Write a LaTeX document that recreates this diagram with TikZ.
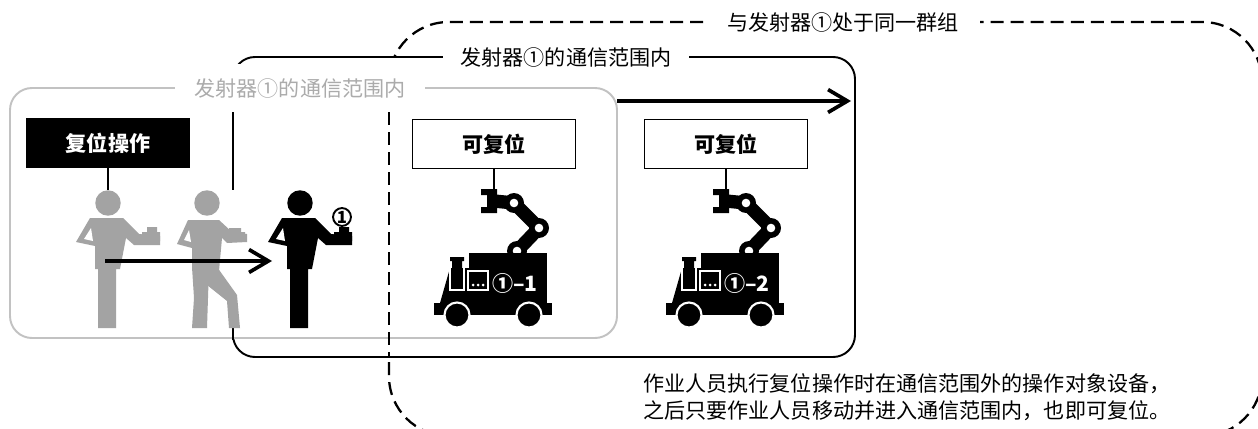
\documentclass[tikz,border=0pt]{standalone}
\usepackage{fontspec}
\setmainfont{Noto Sans CJK SC}
\usepackage{tikz}
\usetikzlibrary{arrows.meta}
\definecolor{cMan}{HTML}{A3A3A3}
\definecolor{cFrame}{HTML}{C2C2C2}
\definecolor{cFaint}{HTML}{ABABAB}

% operator standing still, head centre at the origin (1 unit = 1px, y downwards)
\newcommand{\standman}[1]{%
  \fill[#1] (-18,15) -- (15,15) -- (31,31) -- (52,33) -- (52,42) -- (26,42) -- (18,35)
    -- (12,66) -- (8,66) -- (8,125) -- (-10,125) -- (-10,66) -- (-13,66)
    -- (-13,43) -- (-32,39) -- cycle;
  \fill[#1] (39,24) rectangle (49,29) (34,29) rectangle (52,38);
  \fill[white] (-17,25) -- (-15,38) -- (-24,36) -- cycle;
}
% operator walking
\newcommand{\walkman}[1]{%
  \fill[#1] (-19,17) -- (12,17) -- (25,29) -- (40,31) -- (40,39) -- (20,40) -- (15,35)
    -- (12,68) -- (-15,68) -- (-15,45) -- (-30,41) -- cycle;
  \fill[#1] (22,25) rectangle (34,29) (20,29) rectangle (38,37);
  \fill[white] (-18,27) -- (-16,39) -- (-23,37) -- cycle;
  \fill[#1] (-15,64) -- (2,64) -- (1,95) -- (0,125) -- (-15,125) -- (-13,95) -- cycle;
  \fill[#1] (-6,64) -- (10,64) -- (30,92) -- (33,125) -- (22,125) -- (20,98) -- (0,82) -- cycle;
}
% mobile robot, origin at the bottom centre of its label box
\newcommand{\robot}[2]{%
  \coordinate (#1grip) at (0,20);
  % gripper
  \fill (-13,20) rectangle (3,26) (-7,26) rectangle (3,38) (-13,38) rectangle (3,44);
  % arm links and joints
  \draw[line width=7.6pt,line join=round] (0,32) -- (20,34) -- (45,59) -- (23,82);
  \foreach \jx/\jy in {20/34,45/59,23/82}{
    \fill (\jx,\jy) circle (10);
    \fill[white] (\jx,\jy) circle (4.3);
  }
  % body, front, chimney and base
  \fill (-25,84) rectangle (53,134);
  \fill (-44,99) -- (-25,99) -- (-25,134) -- (-54,134) -- cycle;
  \fill (-44,88) rectangle (-30,92) (-42,92) rectangle (-32,100);
  \fill (-60,134) rectangle (58,146);
  \draw[white,line width=0.7pt] (-44,99) -- (-44,121) -- (-30,121) -- (-30,99);
  \draw[white,line width=0.7pt] (-26,102) rectangle (-6,121);
  \foreach \d in {-21,-16,-11} \fill[white] (\d,116) circle (1.5);
  \node[robotid] (#1id) at (21,114) {#2};
  \foreach \w in {-37,35} \filldraw[draw=white,line width=1.2pt] (\w,146) circle (12.5);
}

\begin{document}
\begin{tikzpicture}[x=0.02cm,y=-0.02cm,
  zone/.style={line width=1.1pt,rounded corners=12.5pt},
  grp/.style={line width=1.3pt,dash pattern=on 7.4pt off 4pt},
  tag/.style={fill=white,inner ysep=2pt,font=\fontsize{12pt}{14pt}\selectfont},
  opbox/.style={fill=black,text=white,minimum width=93.5pt,minimum height=28.3pt,
    inner sep=0pt,font=\fontsize{12pt}{14pt}\selectfont\bfseries},
  okbox/.style={draw,line width=0.6pt,fill=white,minimum width=93pt,minimum height=28.3pt,
    inner sep=0pt,font=\fontsize{12pt}{14pt}\selectfont\bfseries},
  robotid/.style={text=white,inner sep=0pt,font=\fontsize{12pt}{14pt}\selectfont\bfseries},
  head/.style={circle,inner sep=0pt,minimum size=14.5pt},
  tie/.style={line width=0.6pt},
  move/.style={line width=2.1pt,-{Straight Barb[length=11pt,width=13pt]}}]

\clip (0,0) rectangle (1258,429);

%============================ ranges ============================
% same group as transmitter 1
\draw[grp] (389,22) [rounded corners=34pt] rectangle (1262,436);
\node[tag,inner xsep=12pt] (grplbl) at (843,22) {与发射器①处于同一群组};

% range of transmitter 1 after moving
\draw[zone,fill=white] (233,57) rectangle (855,357);
\node[tag,inner xsep=10pt] (rangelbl) at (566,57) {发射器①的通信范围内};

% range of transmitter 1 at the moment of the reset
\draw[zone,cFrame,fill=white] (10,88) rectangle (617,338);
\draw[zone] (233,112) -- (233,190) (233,328) -- (233,340);
\draw[grp] (389,112) -- (389,358);
\node[tag,text=cFaint,inner xsep=11pt,minimum height=27.8pt] (oldlbl) at (300,88)
  {发射器①的通信范围内};

%============================ operators ============================
\node[opbox] (reset) at (108,143) {复位操作};

\begin{scope}[shift={(108,203)}]
  \standman{cMan}
\end{scope}
\node[head,fill=cMan] (head1) at (108,203) {};

\begin{scope}[shift={(207,203)}]
  \walkman{cMan}
\end{scope}
\node[head,fill=cMan] (head2) at (207,203) {};

\begin{scope}[shift={(300,203)}]
  \standman{black}
\end{scope}
\node[head,fill=black] (head3) at (300,203) {};
\node[circle,draw,line width=1.1pt,fill=white,inner sep=0pt,minimum size=10.2pt,
  font=\fontsize{9.5pt}{9.5pt}\selectfont\bfseries] (tx1) at (342,217) {1};

\draw[tie] (reset) -- (head1);

\coordinate (walkfrom) at (105,261);
\coordinate (walkto) at (272,261);
\draw[move] (walkfrom) -- (walkto);

%============================ robots ============================
\node[okbox] (ok1) at (494,144) {可复位};
\node[okbox] (ok2) at (726,144) {可复位};

\begin{scope}[shift={(494,169)}]
  \robot{r1}{①–1}
\end{scope}
\begin{scope}[shift={(726,169)}]
  \robot{r2}{①–2}
\end{scope}

\draw[tie] (ok1) -- (r1grip);
\draw[tie] (ok2) -- (r2grip);

\coordinate (rangefrom) at (617,101);
\coordinate (rangeto) at (851,101);
\draw[move] (rangefrom) -- (rangeto);

% note
\node[anchor=north west,align=left,inner sep=0pt,
  font=\fontsize{12pt}{15.3pt}\selectfont] (note) at (643,373)
  {作业人员执行复位操作时在通信范围外的操作对象设备，\\
   之后只要作业人员移动并进入通信范围内，也即可复位。};

\end{tikzpicture}
\end{document}
